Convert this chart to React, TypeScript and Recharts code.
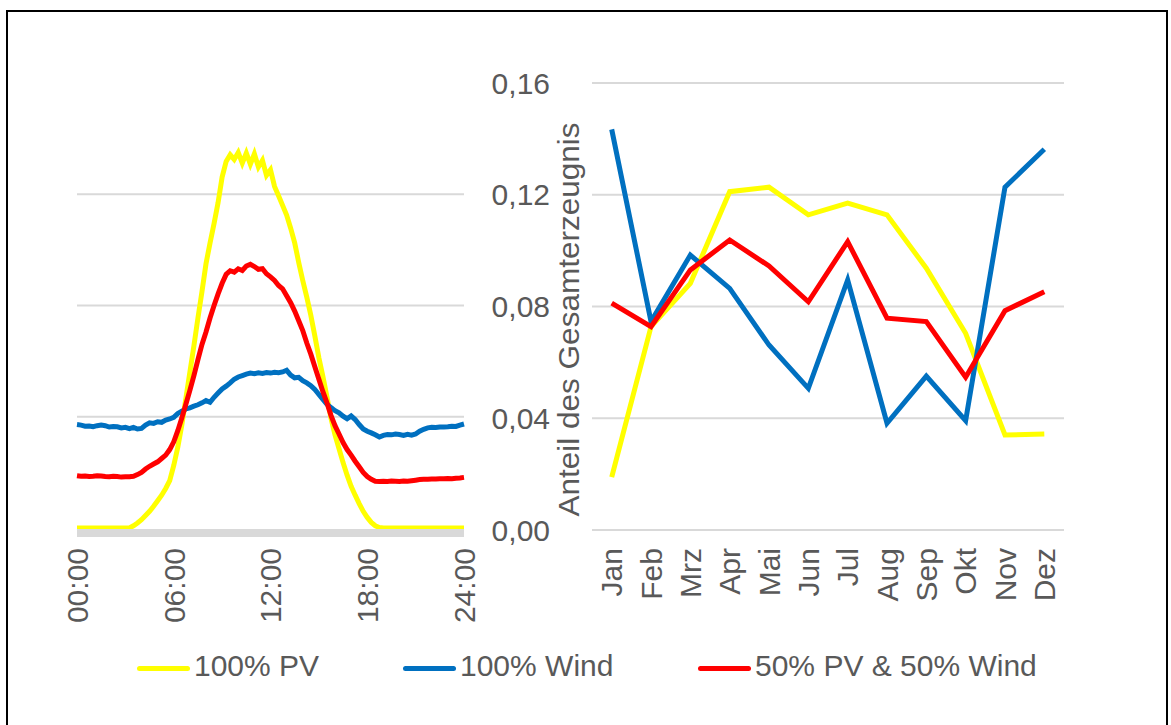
import { LineChart, Line, XAxis, YAxis, CartesianGrid, ReferenceLine } from "recharts";

// Tagesprofil, Viertelstundenwerte 00:00 bis 24:00 (97 Werte)
const pvDay = [
  0, 0, 0, 0, 0, 0, 0, 0, 0, 0, 0, 0, 0, 0,
  0.0008, 0.0018, 0.003, 0.0045, 0.006, 0.0078, 0.0098, 0.0118, 0.0142, 0.017,
  0.0225, 0.029, 0.037, 0.0465, 0.056, 0.0655, 0.0755, 0.085, 0.095, 0.1025,
  0.1095, 0.117, 0.1262, 0.1318, 0.1342, 0.1325, 0.135, 0.1312, 0.1348, 0.1308,
  0.1345, 0.1298, 0.1322, 0.1268, 0.1288, 0.1228, 0.1195, 0.116, 0.1125, 0.1078,
  0.1025, 0.0955, 0.089, 0.083, 0.0765, 0.069, 0.0612, 0.0545, 0.0472, 0.0395,
  0.0335, 0.0285, 0.0235, 0.019, 0.015, 0.0118, 0.0088, 0.006, 0.0038, 0.002,
  0.0008, 0.0002,
  0, 0, 0, 0, 0, 0, 0, 0, 0, 0, 0, 0, 0, 0, 0, 0, 0, 0, 0, 0, 0,
];

const windDay = [
  0.0372, 0.037, 0.0366, 0.0367, 0.0364, 0.0368, 0.037, 0.0368, 0.0363, 0.0365,
  0.0364, 0.036, 0.0362, 0.0357, 0.0362, 0.0356, 0.0358, 0.037, 0.0378, 0.0376,
  0.0382, 0.038, 0.0388, 0.0392, 0.0398, 0.0412, 0.042, 0.0428, 0.0432, 0.0438,
  0.0443, 0.045, 0.0458, 0.0452, 0.047, 0.0485, 0.05, 0.051, 0.0522, 0.0535,
  0.0543, 0.0548, 0.0553, 0.0557, 0.0555, 0.0558, 0.0556, 0.0559, 0.0557, 0.056,
  0.0558, 0.0561, 0.0567, 0.055, 0.054, 0.0542, 0.053, 0.0522, 0.0512, 0.0498,
  0.048, 0.0462, 0.0445, 0.0433, 0.0422, 0.0414, 0.0402, 0.0393, 0.0403, 0.039,
  0.0372, 0.0356, 0.0348, 0.0342, 0.0335, 0.0327, 0.0333, 0.0336, 0.0335, 0.0338,
  0.0336, 0.0333, 0.0337, 0.0334, 0.0338, 0.0348, 0.0355, 0.036, 0.0362, 0.0361,
  0.0363, 0.0363, 0.0364, 0.0366, 0.0365, 0.037, 0.0374,
];

const mixDay = [
  0.0188, 0.0186, 0.0187, 0.0185, 0.0186, 0.0188, 0.0187, 0.0185, 0.0184, 0.0186,
  0.0185, 0.0183, 0.0184, 0.0184, 0.0186, 0.0192, 0.02, 0.0212, 0.0222, 0.023,
  0.0238, 0.025, 0.0262, 0.0282, 0.031, 0.035, 0.0395, 0.0445, 0.0495, 0.0548,
  0.0605, 0.066, 0.0705, 0.0755, 0.08, 0.0842, 0.088, 0.0912, 0.0925, 0.092,
  0.0932, 0.0926, 0.0942, 0.0948, 0.094, 0.093, 0.0932, 0.0914, 0.0903, 0.089,
  0.0872, 0.086, 0.0835, 0.081, 0.078, 0.0745, 0.071, 0.0665, 0.0625, 0.058,
  0.0535, 0.049, 0.045, 0.0405, 0.0368, 0.0338, 0.0307, 0.0282, 0.0262, 0.024,
  0.022, 0.02, 0.0185, 0.0175, 0.0168, 0.0167, 0.0168, 0.0167, 0.0169, 0.0168,
  0.0167, 0.0169, 0.0168, 0.017, 0.0172, 0.0174, 0.0175, 0.0175, 0.0176, 0.0176,
  0.0177, 0.0177, 0.0178, 0.0177, 0.0179, 0.018, 0.0182,
];

const timeTicks = [0, 6, 12, 18, 24];
const timeLabels = ["00:00", "06:00", "12:00", "18:00", "24:00"];

// Monatswerte
const months = ["Jan", "Feb", "Mrz", "Apr", "Mai", "Jun", "Jul", "Aug", "Sep", "Okt", "Nov", "Dez"];
const pvMonth = [0.0189, 0.0728, 0.0883, 0.1211, 0.1227, 0.1128, 0.117, 0.1128, 0.0937, 0.0704, 0.034, 0.0344];
const windMonth = [0.1434, 0.0746, 0.0984, 0.0865, 0.0662, 0.0507, 0.0895, 0.0382, 0.0551, 0.0391, 0.1227, 0.1363];
const mixMonth = [0.0812, 0.0728, 0.0931, 0.1038, 0.0945, 0.0817, 0.1032, 0.0758, 0.0746, 0.0547, 0.0785, 0.0853];

const valueTicks = [0, 0.04, 0.08, 0.12, 0.16];
const dayGridTicks = [0.04, 0.08, 0.12];

const SERIES = [
  { key: "pv", name: "100% PV", color: "#FFFF00" },
  { key: "wind", name: "100% Wind", color: "#0070C0" },
  { key: "mix", name: "50% PV & 50% Wind", color: "#FF0000" },
];

const FONT = '"Liberation Sans", Arial, sans-serif';
const TEXT = "#595959";
const GRID = "#d9d9d9";
const FS = 30;

const dayData = pvDay.map((v, i) => ({
  hour: i / 4,
  pv: v,
  wind: windDay[i],
  mix: mixDay[i],
}));

const monthData = months.map((m, i) => ({
  month: m,
  pv: pvMonth[i],
  wind: windMonth[i],
  mix: mixMonth[i],
}));

const RotatedTick = (props: any) => {
  const { x, y, payload, labels } = props;
  const text = labels ? labels[timeTicks.indexOf(payload.value)] : payload.value;
  return (
    <text
      x={x}
      y={y}
      transform={`rotate(-90 ${x} ${y})`}
      textAnchor="end"
      dy="0.36em"
      fill={TEXT}
      fontSize={FS}
      fontFamily={FONT}
    >
      {text}
    </text>
  );
};

const AxisTitle = (props: any) => {
  const { viewBox } = props;
  const cx = viewBox.x + 99;
  const cy = viewBox.y + viewBox.height / 2 + 13;
  return (
    <text
      x={cx}
      y={cy}
      transform={`rotate(-90 ${cx} ${cy})`}
      textAnchor="middle"
      fill={TEXT}
      fontSize={FS}
      fontFamily={FONT}
      textLength={394}
      lengthAdjust="spacingAndGlyphs"
    >
      Anteil des Gesamterzeugnis
    </text>
  );
};

const fmt = (v: number) => v.toFixed(2).replace(".", ",");

export default function App() {
  return (
    <div
      style={{
        position: "absolute",
        left: 0,
        top: 0,
        width: 1171,
        height: 725,
        overflow: "hidden",
        background: "#fff",
        fontFamily: FONT,
      }}
    >
      <div
        style={{
          position: "absolute",
          left: 6,
          top: 10,
          width: 1158,
          height: 800,
          border: "2px solid #000",
        }}
      />

      <div style={{ position: "absolute", left: 0, top: 0 }}>
        <LineChart
          width={480}
          height={640}
          data={dayData}
          margin={{ top: 83, left: 77, right: 16, bottom: 22 }}
        >
          <YAxis
            width={0}
            domain={[0, 0.16]}
            ticks={dayGridTicks}
            tick={false}
            axisLine={false}
            tickLine={false}
          />
          <XAxis
            dataKey="hour"
            type="number"
            domain={[0, 24]}
            ticks={timeTicks}
            height={90}
            tickSize={0}
            tickMargin={20}
            axisLine={{ stroke: GRID, strokeWidth: 8, transform: "translate(0,5)" }}
            tickLine={false}
            tick={<RotatedTick labels={timeLabels} />}
            interval={0}
          />
          {dayGridTicks.map((v) => (
            <ReferenceLine key={v} y={v} stroke={GRID} strokeWidth={2} />
          ))}
          {SERIES.map((s) => (
            <Line
              key={s.key}
              dataKey={s.key}
              stroke={s.color}
              strokeWidth={5}
              dot={false}
              isAnimationActive={false}
            />
          ))}
        </LineChart>
      </div>

      <div style={{ position: "absolute", left: 480, top: 0 }}>
        <LineChart
          width={691}
          height={640}
          data={monthData}
          margin={{ top: 83, left: 0, right: 107, bottom: 20 }}
        >
          <CartesianGrid vertical={false} stroke={GRID} strokeWidth={2} />
          <YAxis
            domain={[0, 0.16]}
            ticks={valueTicks}
            width={112}
            axisLine={false}
            tickLine={false}
            tickSize={0}
            tickMargin={42}
            tickFormatter={fmt}
            tick={{ fill: TEXT, fontSize: FS, fontFamily: FONT }}
            label={<AxisTitle />}
          />
          <XAxis
            dataKey="month"
            height={90}
            padding={{ left: 19.7, right: 19.7 }}
            axisLine={false}
            tickLine={false}
            tickSize={0}
            tickMargin={18}
            interval={0}
            tick={<RotatedTick />}
          />
          {SERIES.map((s) => (
            <Line
              key={s.key}
              dataKey={s.key}
              stroke={s.color}
              strokeWidth={5}
              dot={false}
              isAnimationActive={false}
            />
          ))}
        </LineChart>
      </div>

      {SERIES.map((s, i) => (
        <div
          key={s.key}
          style={{
            position: "absolute",
            left: [137, 403, 698][i],
            top: 648,
            height: 36,
            display: "flex",
            alignItems: "center",
            color: TEXT,
            fontSize: FS,
            whiteSpace: "nowrap",
          }}
        >
          <span
            style={{
              display: "inline-block",
              width: 53,
              height: 5,
              borderRadius: 3,
              background: s.color,
              marginRight: 4,
              marginTop: 4,
            }}
          />
          {s.name}
        </div>
      ))}
    </div>
  );
}
